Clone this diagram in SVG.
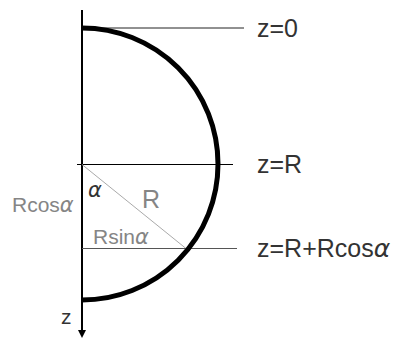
<svg xmlns="http://www.w3.org/2000/svg" width="396" height="339" viewBox="0 0 396 339">
<style>
text{font-family:"Liberation Sans",Arial,sans-serif;font-size:21px}
.big{font-size:25px}
.dark{fill:#333}
.gray{fill:#858585}
.a{font-family:"DejaVu Sans",sans-serif;font-style:oblique}
</style>
<defs>
<marker id="arr" markerWidth="10" markerHeight="10" refX="0" refY="4" orient="auto" markerUnits="userSpaceOnUse">
<path d="M0,0 L8,4 L0,8 z" fill="#000"/>
</marker>
</defs>
<rect width="396" height="339" fill="#fff"/>
<g id="connectors">
<line x1="82" y1="10" x2="82" y2="330" stroke="#000" stroke-width="2" marker-end="url(#arr)"/>
<line x1="82" y1="28" x2="244" y2="28" stroke="#222" stroke-width="1"/>
<line x1="77" y1="164.5" x2="233" y2="164.5" stroke="#000" stroke-width="1.2"/>
<line x1="82" y1="248.5" x2="237" y2="248.5" stroke="#555" stroke-width="1.2"/>
<line x1="82" y1="164.5" x2="186" y2="248.5" stroke="#aaa" stroke-width="1"/>
</g>
<g id="arc">
<path d="M82,28 A136,136 0 0 1 82,300" fill="none" stroke="#000" stroke-width="5"/>
</g>
<g id="labels">
<text class="dark big" x="257" y="37">z=0</text>
<text class="dark big" x="257" y="173">z=R</text>
<text class="dark big" x="257" y="257">z=R+Rcos<tspan class="a">α</tspan></text>
<text class="gray" x="12" y="212">Rcos<tspan class="a">α</tspan></text>
<text class="dark" x="88" y="197"><tspan class="a">α</tspan></text>
<text class="gray big" x="142" y="208">R</text>
<text class="gray" x="93" y="244">Rsin<tspan class="a">α</tspan></text>
<text class="dark" x="61" y="324" font-size="24">z</text>
</g>
</svg>
